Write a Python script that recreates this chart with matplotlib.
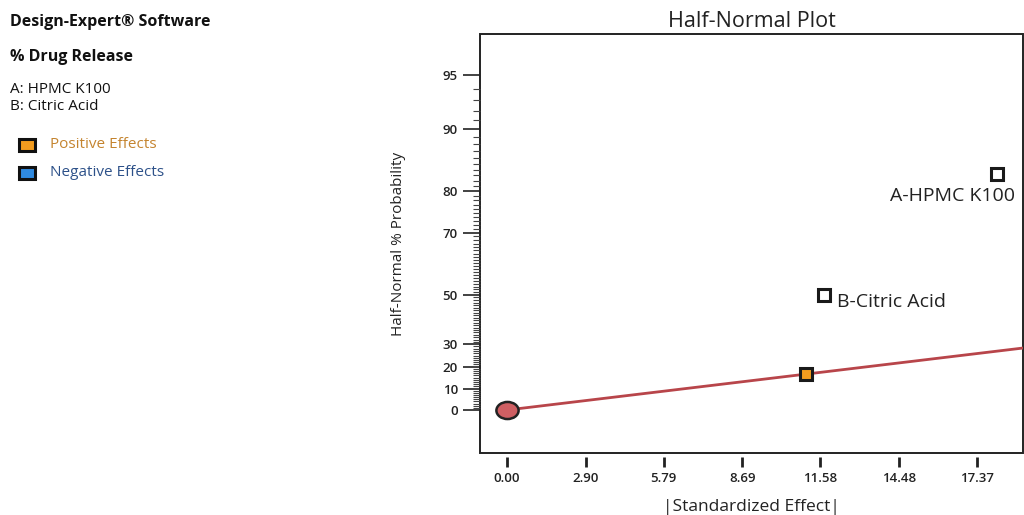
import numpy as np
import matplotlib
matplotlib.use("Agg")
import matplotlib.pyplot as plt
from matplotlib.path import Path
from matplotlib.patches import Rectangle
from statistics import NormalDist

# ---- data ----
terms = ["A-HPMC K100", "B-Citric Acid", "AB"]
effects = [18.12, 11.73, 11.05]
probs = [83.33, 50.0, 16.67]
term_fill = ["white", "white", "#f39c1f"]
origin_effect = [0.0]
origin_prob = [0.0]
line_effect = [0.0, 19.2]
line_prob = [0.0, 28.5]
xticks = [0.00, 2.90, 5.79, 8.69, 11.58, 14.48, 17.37]
xtick_labels = ["0.00", "2.90", "5.79", "8.69", "11.58", "14.48", "17.37"]
yticks = [0, 10, 20, 30, 50, 70, 80, 90, 95]

nd = NormalDist()


def _fwd(p):
    p = np.asarray(p, dtype=float)
    a = np.clip(np.abs(p), 0, 99.999)
    z = np.array([nd.inv_cdf(0.5 + v / 200.0) for v in a.ravel()]).reshape(a.shape)
    return np.sign(p) * z


def _inv(z):
    z = np.asarray(z, dtype=float)
    a = np.abs(z)
    p = np.array([200.0 * (nd.cdf(v) - 0.5) for v in a.ravel()]).reshape(a.shape)
    return np.sign(z) * p


plt.rcParams['font.family'] = ['Open Sans', 'DejaVu Sans']

fig = plt.figure(figsize=(10.24, 5.15), dpi=100)
ax = fig.add_axes([0.4688, 0.1204, 0.5303, 0.8136])
ax.set_yscale('function', functions=(_fwd, _inv))
ax.set_xlim(-1.0, 19.07)
ax.set_ylim(-19.86, 97.22)

# frame
for s in ax.spines.values():
    s.set_visible(False)
ax.patch.set_edgecolor('#222222')
ax.patch.set_linewidth(1.4)
ax.spines['bottom'].set_position(('outward', 3))

# ellipse marker
circ = Path.unit_circle()
ell = Path(circ.vertices * np.array([1.3, 1.0]), circ.codes)

# fit line
ax.plot(line_effect, line_prob, color='#b8454a', lw=2.0, zorder=2)
# origin
ax.plot(origin_effect, origin_prob, marker=ell, ms=16, mfc='#cf5f63', mec='#222222',
        mew=1.8, ls='none', zorder=4)
# effects
for t, e, p, c in zip(terms, effects, probs, term_fill):
    ax.plot([e], [p], marker='s', ms=8, mfc=c, mec='#1a1a1a', mew=2.2, ls='none', zorder=5)

ax.annotate(terms[0], (effects[0], probs[0]), xytext=(-77, -16), textcoords='offset points',
            fontsize=14, color='#222222', annotation_clip=False, va='center')
ax.annotate(terms[1], (effects[1], probs[1]), xytext=(9, -5), textcoords='offset points',
            fontsize=14, color='#222222', va='center')

# ticks
ax.set_xticks(xticks)
ax.set_xticklabels(xtick_labels)
ax.tick_params(axis='x', direction='out', length=7, width=2.0, pad=4, labelsize=9.5,
               colors='#222222')
ax.set_yticks(yticks)
ax.set_yticklabels([str(v) for v in yticks])
minor = [v for v in range(1, 96) if v not in yticks]
ax.set_yticks(minor, minor=True)
ax.tick_params(axis='y', which='major', direction='out', length=12, width=1.2, pad=4,
               labelsize=9.5, colors='#222222')
ax.tick_params(axis='y', which='minor', direction='out', length=5, width=0.8, colors='#444444')
for lab in ax.get_xticklabels() + ax.get_yticklabels():
    lab.set_fontweight('semibold')

ax.set_title('Half-Normal Plot', fontsize=15.5, color='#222222', pad=5)
ax.set_xlabel('|Standardized Effect|', fontsize=12.5, color='#222222', labelpad=10)
ax.set_ylabel('Half-Normal % Probability', fontsize=11, color='#222222', labelpad=26)

# side info
fig.text(10 / 1024, 1 - 22 / 515, 'Design-Expert® Software', fontsize=11.5, fontweight='bold',
         va='center', color='#111111')
fig.text(10 / 1024, 1 - 57 / 515, '% Drug Release', fontsize=11.5, fontweight='bold',
         va='center', color='#111111')
fig.text(10 / 1024, 1 - 89 / 515, 'A: HPMC K100', fontsize=11, va='center', color='#111111')
fig.text(10 / 1024, 1 - 106 / 515, 'B: Citric Acid', fontsize=11, va='center', color='#111111')

fig.patches.append(Rectangle((19 / 1024, 1 - 151 / 515), 16 / 1024, 12 / 515, transform=fig.transFigure,
                             facecolor='#f39c1f', edgecolor='#111111', lw=2.2))
fig.patches.append(Rectangle((19 / 1024, 1 - 179 / 515), 16 / 1024, 12 / 515, transform=fig.transFigure,
                             facecolor='#2f8ae0', edgecolor='#111111', lw=2.2))
fig.text(50 / 1024, 1 - 145 / 515, 'Positive Effects', fontsize=11, va='center', color='#c4842f')
fig.text(50 / 1024, 1 - 173 / 515, 'Negative Effects', fontsize=11, va='center', color='#2d5189')

fig.savefig('out.png', dpi=100)
